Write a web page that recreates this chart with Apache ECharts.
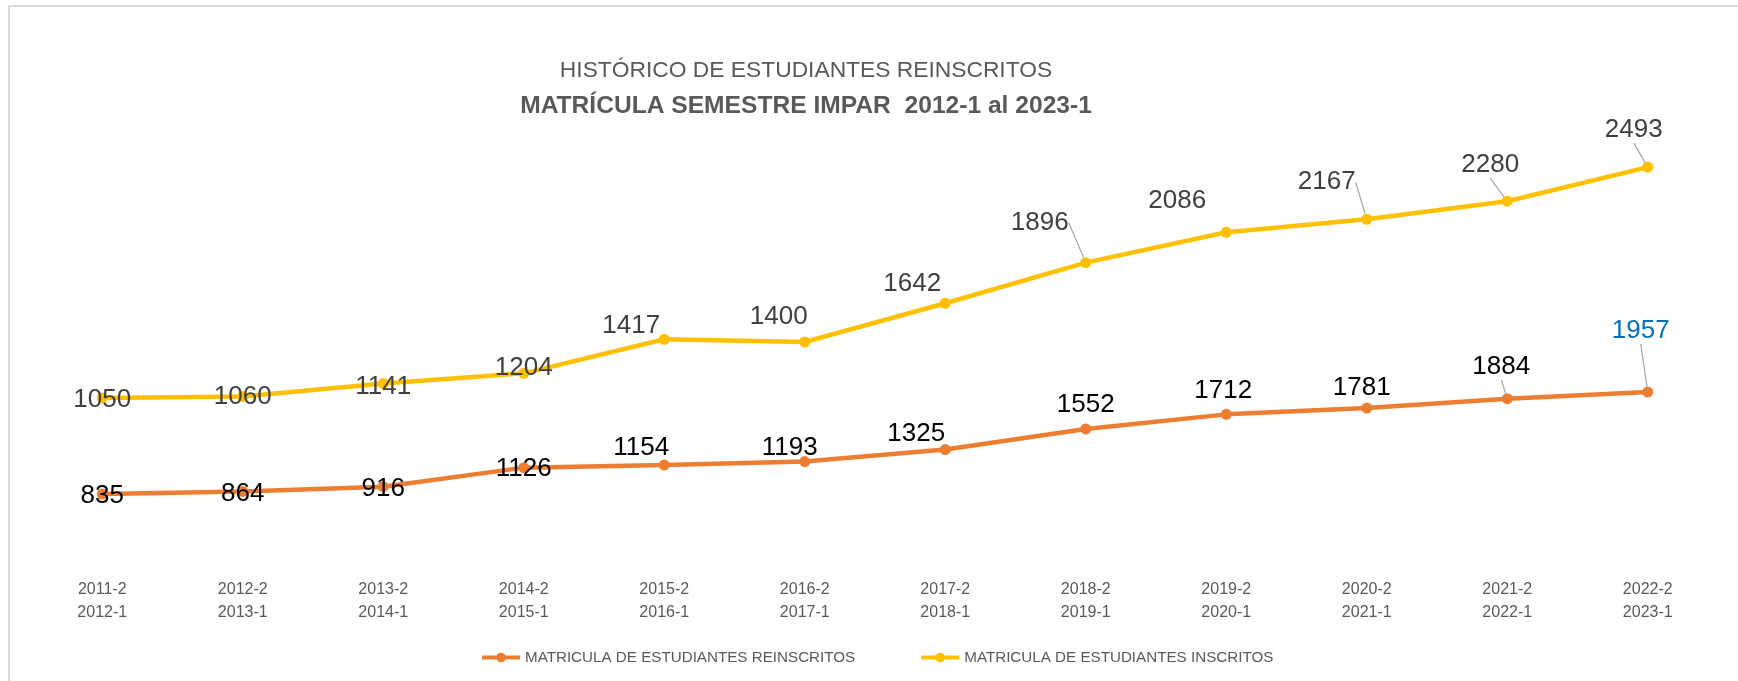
<!DOCTYPE html>
<html>
<head>
<meta charset="utf-8">
<title>Histórico de estudiantes reinscritos</title>
<script src="https://cdn.jsdelivr.net/npm/echarts@6/dist/echarts.min.js"></script>
<style>
  html, body { margin: 0; padding: 0; background: #fff; }
  #chart { width: 1738px; height: 681px; }
</style>
</head>
<body>
<div id="chart"></div>
<script>
// periodos (semestre par / semestre impar)
const periodos = [
  '2011-2\n2012-1', '2012-2\n2013-1', '2013-2\n2014-1', '2014-2\n2015-1',
  '2015-2\n2016-1', '2016-2\n2017-1', '2017-2\n2018-1', '2018-2\n2019-1',
  '2019-2\n2020-1', '2020-2\n2021-1', '2021-2\n2022-1', '2022-2\n2023-1'
]
const reinscritos = [835, 864, 916, 1126, 1154, 1193, 1325, 1552, 1712, 1781, 1884, 1957]
const inscritos = [1050, 1060, 1141, 1204, 1417, 1400, 1642, 1896, 2086, 2167, 2280, 2493]

// desplazamiento de etiquetas como en el grafico original
const offReinscritos = [[0, 2], [0, 2], [0, 2], [0, 1], [-23, -17], [-15, -14], [-29, -16], [0, -24], [-3, -24], [-5, -20], [-6, -32], [-7, -61]]
const offInscritos = [[0, 2], [0, 0], [0, 3], [0, -6], [-33, -13], [-26, -25], [-33, -19], [-46, -40], [-49, -31], [-40, -37], [-17, -36], [-14, -37]]
// puntos con linea guia
const guiaReinscritos = [10, 11]
const guiaInscritos = [7, 9, 10, 11]

const gris = '#595959'
const fuente = '"Liberation Sans", Arial, sans-serif'

let chart = echarts.init(document.getElementById('chart'))

let datosReinscritos = reinscritos.map(function (v, i) {
  let d = { value: v }
  if (guiaReinscritos.indexOf(i) >= 0) d.labelLine = { show: true }
  if (i === reinscritos.length - 1) d.label = { color: '#0070C0' }
  return d
})
let datosInscritos = inscritos.map(function (v, i) {
  let d = { value: v }
  if (guiaInscritos.indexOf(i) >= 0) d.labelLine = { show: true }
  return d
})

chart.setOption({
  animation: false,
  textStyle: { fontFamily: fuente },
  graphic: [
    {
      type: 'rect',
      shape: { x: 9, y: 6, width: 1800, height: 800 },
      style: { fill: 'none', stroke: '#D9D9D9', lineWidth: 2 },
      silent: true
    }
  ],
  title: [
    {
      text: 'HISTÓRICO DE ESTUDIANTES REINSCRITOS',
      left: 806,
      top: 59,
      padding: 0,
      textAlign: 'center',
      textStyle: { fontSize: 22.8, fontWeight: 'normal', color: gris, fontFamily: fuente }
    },
    {
      text: 'MATRÍCULA SEMESTRE IMPAR  2012-1 al 2023-1',
      left: 806,
      top: 94,
      padding: 0,
      textAlign: 'center',
      textStyle: { fontSize: 24.6, fontWeight: 'bold', color: gris, fontFamily: fuente }
    }
  ],
  legend: {
    left: 475,
    top: 645,
    itemWidth: 38,
    itemHeight: 12,
    itemGap: 64,
    lineStyle: { width: 4 },
    textStyle: { fontSize: 15.2, color: gris, fontFamily: fuente },
    data: ['MATRICULA DE ESTUDIANTES REINSCRITOS', 'MATRICULA DE ESTUDIANTES INSCRITOS']
  },
  grid: {
    left: 32,
    right: 20,
    top: 86,
    bottom: 115,
    containLabel: false
  },
  xAxis: {
    type: 'category',
    data: periodos,
    axisLine: { show: false },
    axisTick: { show: false },
    axisLabel: {
      color: gris,
      fontSize: 16,
      lineHeight: 23,
      margin: 12,
      fontFamily: fuente
    },
    splitLine: { show: false }
  },
  yAxis: [
    { type: 'value', min: 0, max: 3000, show: false, splitLine: { show: false } },
    { type: 'value', min: 44, max: 5324, show: false, splitLine: { show: false } }
  ],
  series: [
    {
      name: 'MATRICULA DE ESTUDIANTES REINSCRITOS',
      type: 'line',
      yAxisIndex: 1,
      data: datosReinscritos,
      color: '#ED7D31',
      symbol: 'circle',
      symbolSize: 11,
      lineStyle: { width: 4.5, color: '#ED7D31' },
      itemStyle: { color: '#ED7D31' },
      label: {
        show: true,
        position: 'inside',
        color: '#000',
        fontSize: 26,
        fontFamily: fuente
      },
      labelLine: { show: false, lineStyle: { color: '#A6A6A6', width: 1.2 } },
      labelLayout: function (params) {
        let o = offReinscritos[params.dataIndex]
        return { dx: o[0], dy: o[1] }
      }
    },
    {
      name: 'MATRICULA DE ESTUDIANTES INSCRITOS',
      type: 'line',
      yAxisIndex: 0,
      data: datosInscritos,
      color: '#FFC000',
      symbol: 'circle',
      symbolSize: 11,
      lineStyle: { width: 4.5, color: '#FFC000' },
      itemStyle: { color: '#FFC000' },
      label: {
        show: true,
        position: 'inside',
        color: '#404040',
        fontSize: 26,
        fontFamily: fuente
      },
      labelLine: { show: false, lineStyle: { color: '#A6A6A6', width: 1.2 } },
      labelLayout: function (params) {
        let o = offInscritos[params.dataIndex]
        return { dx: o[0], dy: o[1] }
      }
    }
  ]
})
</script>
</body>
</html>
